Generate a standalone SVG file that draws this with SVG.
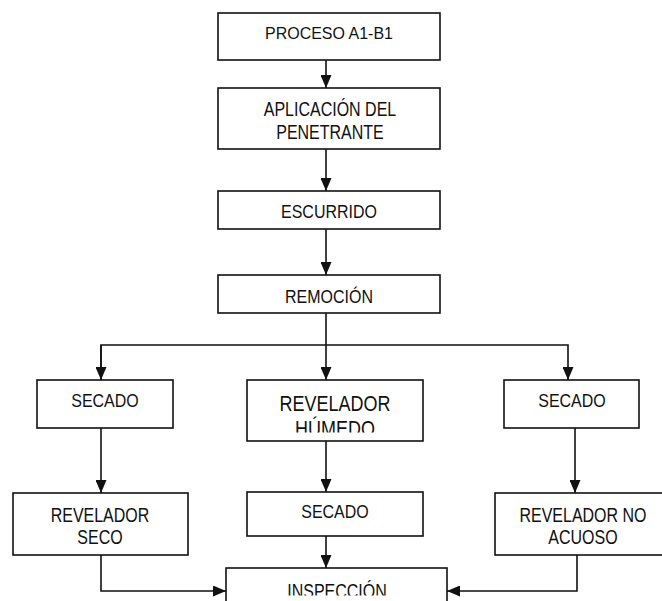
<svg xmlns="http://www.w3.org/2000/svg" width="662" height="601" viewBox="0 0 662 601">
<style>
.box{fill:#fff;stroke:#111;stroke-width:1.6}
.t{font-family:"Liberation Sans",Arial,sans-serif;font-size:16px;fill:#111;text-anchor:middle}
.c{fill:none;stroke:#111;stroke-width:1.6}
</style>
<defs>
<marker id="ah" markerUnits="userSpaceOnUse" markerWidth="13" markerHeight="11" refX="13" refY="5.5" orient="auto">
<path d="M0,0 L13,5.5 L0,11 z" fill="#111"/>
</marker>
<clipPath id="clipH"><rect x="240" y="380" width="190" height="52.5"/></clipPath>
<clipPath id="clipI"><rect x="220" y="560" width="240" height="35.5"/></clipPath>
</defs>
<rect width="662" height="601" fill="#fff"/>
<g id="connectors">
<path class="c" d="M326,60 V88" marker-end="url(#ah)"/>
<path class="c" d="M326,149 V191" marker-end="url(#ah)"/>
<path class="c" d="M326,229 V275" marker-end="url(#ah)"/>
<path class="c" d="M326,313 V380" marker-end="url(#ah)"/>
<path class="c" d="M101,380 V345 H568 V380" marker-end="url(#ah)"/>
<path class="c" d="M101,345 V380" marker-end="url(#ah)"/>
<path class="c" d="M101,428 V493" marker-end="url(#ah)"/>
<path class="c" d="M326,441 V492" marker-end="url(#ah)"/>
<path class="c" d="M575,428 V493" marker-end="url(#ah)"/>
<path class="c" d="M326,536 V568" marker-end="url(#ah)"/>
<path class="c" d="M101,555 V591 H226" marker-end="url(#ah)"/>
<path class="c" d="M577,555 V591 H447" marker-end="url(#ah)"/>
</g>
<g id="n1"><rect class="box" x="218" y="13" width="222" height="47"/>
<text class="t" transform="translate(329,39) scale(1,1.05)">PROCESO A1-B1</text></g>
<g id="n2"><rect class="box" x="218" y="88" width="222" height="61"/>
<text class="t" transform="translate(330,116) scale(1,1.25)">APLICACIÓN DEL</text>
<text class="t" transform="translate(330,139) scale(1,1.25)">PENETRANTE</text></g>
<g id="n3"><rect class="box" x="218" y="191" width="222" height="38"/>
<text class="t" transform="translate(329,218) scale(1,1.18)">ESCURRIDO</text></g>
<g id="n4"><rect class="box" x="218" y="275" width="222" height="38"/>
<text class="t" transform="translate(329,303) scale(1,1.18)">REMOCIÓN</text></g>
<g id="n5"><rect class="box" x="37" y="380" width="136" height="48"/>
<text class="t" transform="translate(105,407) scale(1,1.2)">SECADO</text></g>
<g id="n6"><rect class="box" x="247" y="380" width="176" height="61"/>
<text class="t" style="font-size:18px" transform="translate(335,411) scale(1,1.22)">REVELADOR</text>
<g clip-path="url(#clipH)"><text class="t" style="font-size:18px" transform="translate(335,436) scale(1,1.22)">HÚMEDO</text></g></g>
<g id="n7"><rect class="box" x="504" y="380" width="135" height="48"/>
<text class="t" transform="translate(572,407) scale(1,1.2)">SECADO</text></g>
<g id="n8"><rect class="box" x="13" y="493" width="175" height="62"/>
<text class="t" transform="translate(100,522) scale(1,1.22)">REVELADOR</text>
<text class="t" transform="translate(100,544) scale(1,1.22)">SECO</text></g>
<g id="n9"><rect class="box" x="247" y="492" width="176" height="44"/>
<text class="t" transform="translate(335,518) scale(1,1.2)">SECADO</text></g>
<g id="n10"><rect class="box" x="495" y="493" width="176" height="62"/>
<text class="t" transform="translate(583,522) scale(1,1.22)">REVELADOR NO</text>
<text class="t" transform="translate(583,544) scale(1,1.22)">ACUOSO</text></g>
<g id="n11"><rect class="box" x="226" y="568" width="221" height="50"/>
<g clip-path="url(#clipI)"><text class="t" transform="translate(337,598) scale(1,1.22)">INSPECCIÓN</text></g></g>
</svg>
